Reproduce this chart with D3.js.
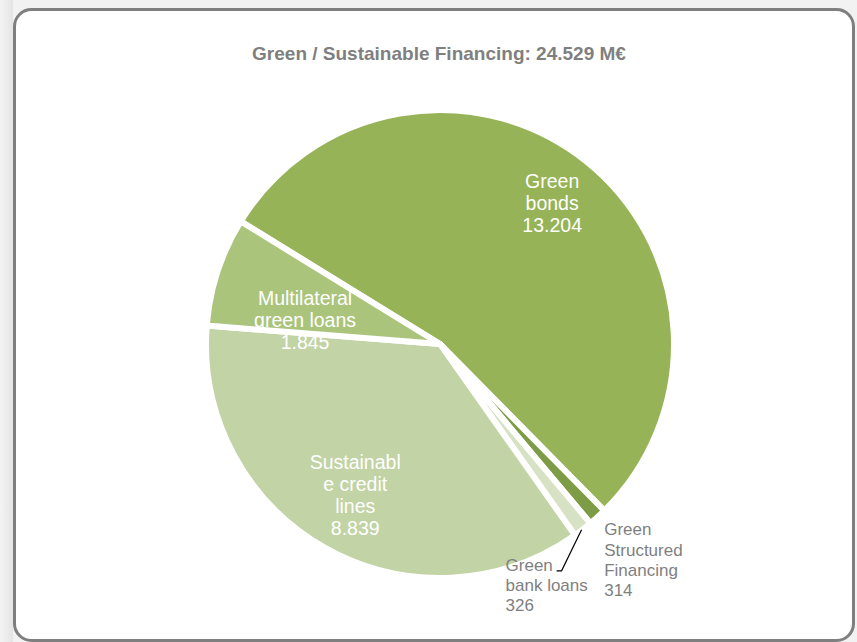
<!DOCTYPE html>
<html>
<head>
<meta charset="utf-8">
<script src="https://cdn.jsdelivr.net/npm/d3@7"></script>
<style>
  html, body { margin: 0; padding: 0; background: #f2f2f2; }
  svg { display: block; }
</style>
</head>
<body>
<svg id="chart" width="857" height="642"></svg>
<script>
// ---- data ----
const categories = ["Green bonds", "Green Structured Financing", "Green bank loans", "Sustainable credit lines", "Multilateral green loans"];
const values = [13204, 314, 326, 8839, 1845];
const valueLabels = ["13.204", "314", "326", "8.839", "1.845"];
const labelLines = [
  ["Green", "bonds"],
  ["Green", "Structured", "Financing"],
  ["Green", "bank loans"],
  ["Sustainabl", "e credit", "lines"],
  ["Multilateral", "green loans"]
];
const colors = ["#96b357", "#7d9c45", "#d6e2c3", "#c2d3a5", "#aac47b"];
const titleText = "Green / Sustainable Financing: 24.529 M€";

// ---- layout ----
const W = 857, H = 642;
const cx = 440, cy = 344, R = 234;
const startDeg = -58.4;

const svg = d3.select("#chart");

// background shadow on left
const defs = svg.append("defs");
const grad = defs.append("linearGradient").attr("id", "shadow").attr("x1", 0).attr("x2", 1);
grad.append("stop").attr("offset", 0).attr("stop-color", "#f4f4f4");
grad.append("stop").attr("offset", 1).attr("stop-color", "#e4e4e4");
svg.append("rect").attr("x", 0).attr("y", 0).attr("width", 13).attr("height", H).attr("fill", "url(#shadow)");

// frame
svg.append("rect")
  .attr("x", 14.5).attr("y", 9.5)
  .attr("width", 839).attr("height", 631)
  .attr("rx", 17).attr("ry", 17)
  .attr("fill", "#ffffff")
  .attr("stroke", "#7f7f7f")
  .attr("stroke-width", 3);

// title
svg.append("text")
  .attr("x", 439).attr("y", 60)
  .attr("text-anchor", "middle")
  .attr("font-family", "'Liberation Sans Narrow', 'Liberation Sans', Arial, sans-serif")
  .attr("font-weight", "bold")
  .attr("font-size", 19)
  .attr("fill", "#7f7f7f")
  .text(titleText);

// pie
const pie = d3.pie().sort(null).value(d => d)
  .startAngle(startDeg * Math.PI / 180)
  .endAngle(startDeg * Math.PI / 180 + 2 * Math.PI);
const arcs = pie(values);
const arc = d3.arc().innerRadius(0).outerRadius(R);

const g = svg.append("g").attr("transform", `translate(${cx},${cy})`);
g.selectAll("path.slice").data(arcs).enter().append("path")
  .attr("class", "slice")
  .attr("d", arc)
  .attr("fill", (d, i) => colors[i])
  .attr("stroke", "#ffffff")
  .attr("stroke-width", 6)
  .attr("stroke-linejoin", "miter");

// inside labels: radius fraction and small nudges
const insideLayout = {
  0: { k: 0.77, dAng: 0, dx: 0, dy: 0 },
  3: { k: 0.73, dAng: -1.8, dx: -5, dy: 0 },
  4: { k: 0.59, dAng: -8, dx: 1, dy: 0 }
};
const fontFam = "'Liberation Sans', Arial, sans-serif";
Object.keys(insideLayout).forEach(key => {
  const i = +key;
  const L = insideLayout[i];
  const a = arcs[i];
  const mid = (a.startAngle + a.endAngle) / 2 + L.dAng * Math.PI / 180;
  const r = R * L.k;
  const x = Math.sin(mid) * r + L.dx;
  const y = -Math.cos(mid) * r + L.dy;
  const lines = labelLines[i].concat([valueLabels[i]]);
  const lh = 22;
  const t = g.append("text")
    .attr("text-anchor", "middle")
    .attr("font-family", fontFam)
    .attr("font-size", 19.5)
    .attr("fill", "#ffffff");
  lines.forEach((ln, j) => {
    t.append("tspan")
      .attr("x", x)
      .attr("y", y + (j - (lines.length - 1) / 2) * lh + 7)
      .text(ln);
  });
});

// outside labels
function outerPoint(i, rr) {
  const a = arcs[i];
  const mid = (a.startAngle + a.endAngle) / 2;
  return [Math.sin(mid) * rr, -Math.cos(mid) * rr];
}
// Green Structured Financing (index 1)
{
  const p = outerPoint(1, R + 10);
  const lines = labelLines[1].concat([valueLabels[1]]);
  const t = g.append("text")
    .attr("font-family", fontFam).attr("font-size", 17).attr("fill", "#7f7f7f");
  lines.forEach((ln, j) => {
    t.append("tspan").attr("x", p[0]).attr("y", p[1] + 11 + j * 20.3).text(ln);
  });
}
// Green bank loans (index 2) with leader line
{
  const p = outerPoint(2, R - 2);
  const lines = labelLines[2].concat([valueLabels[2]]);
  const bx = p[0] - 76, by = p[1] + 43;
  const t = g.append("text")
    .attr("font-family", fontFam).attr("font-size", 17).attr("fill", "#7f7f7f");
  lines.forEach((ln, j) => {
    t.append("tspan").attr("x", bx).attr("y", by + j * 20).text(ln);
  });
  g.append("polyline")
    .attr("points", `${p[0]},${p[1] + 2} ${bx + 56},${by} ${bx + 51},${by}`)
    .attr("fill", "none").attr("stroke", "#000000").attr("stroke-width", 1.2);
}
</script>
</body>
</html>
